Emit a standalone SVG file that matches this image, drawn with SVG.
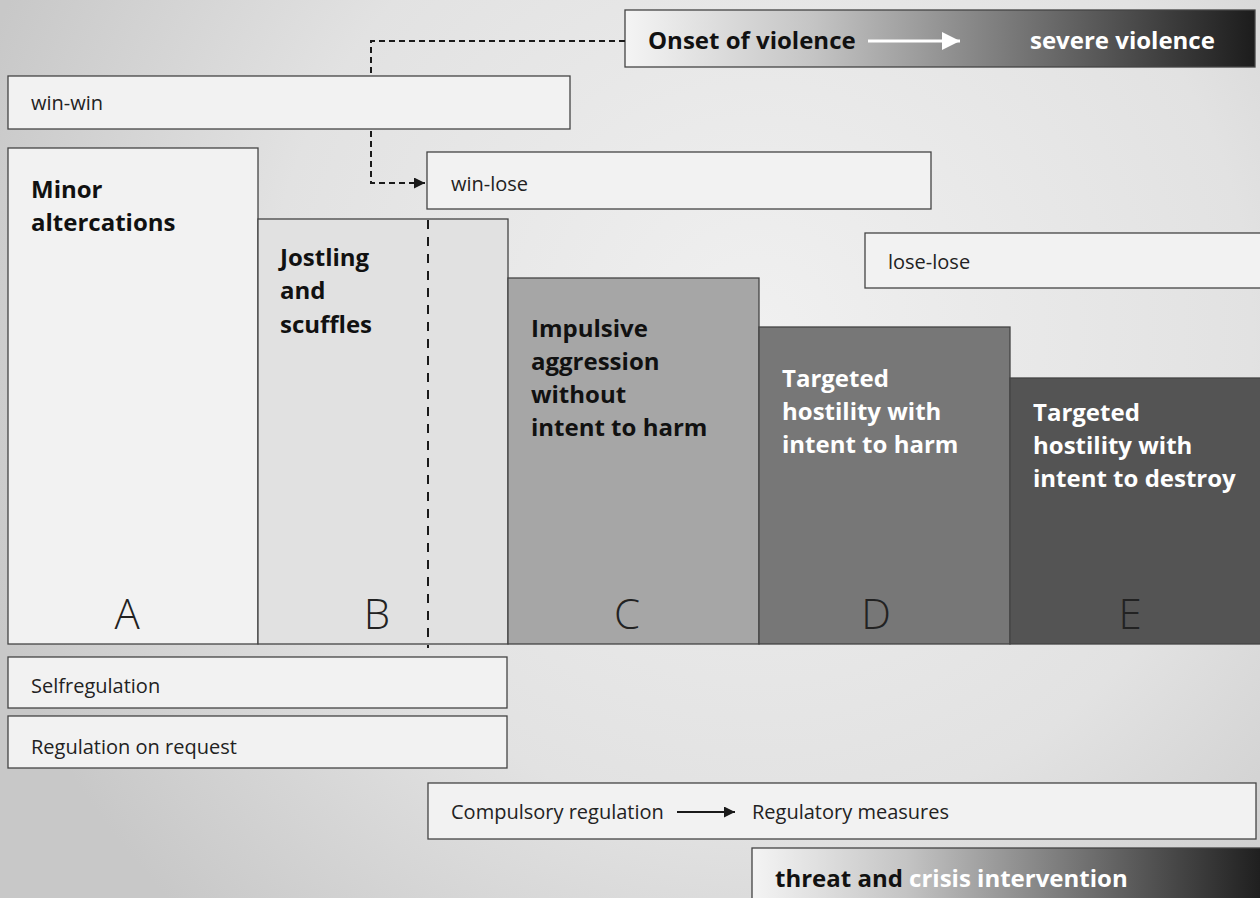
<svg xmlns="http://www.w3.org/2000/svg" width="1260" height="898" viewBox="0 0 1260 898">
  <defs>
    <radialGradient id="bg" cx="760" cy="330" r="820" gradientUnits="userSpaceOnUse">
      <stop offset="0" stop-color="#f0f0f0"/>
      <stop offset="0.6" stop-color="#e2e2e2"/>
      <stop offset="1" stop-color="#c8c8c8"/>
    </radialGradient>
    <linearGradient id="fade" x1="0" y1="0" x2="1" y2="0">
      <stop offset="0" stop-color="#f4f4f4"/>
      <stop offset="0.3" stop-color="#c4c4c4"/>
      <stop offset="0.65" stop-color="#707070"/>
      <stop offset="1" stop-color="#1c1c1c"/>
    </linearGradient>
    <marker id="head" viewBox="0 0 10 10" refX="10" refY="5" markerWidth="12" markerHeight="11" markerUnits="userSpaceOnUse" orient="auto">
      <path d="M0,0 L10,5 L0,10 Z" fill="#1a1a1a"/>
    </marker>
    <marker id="headBig" viewBox="0 0 10 10" refX="10" refY="5" markerWidth="17" markerHeight="11" markerUnits="userSpaceOnUse" orient="auto">
      <path d="M0,0 L10,5 L0,10 Z" fill="#1a1a1a"/>
    </marker>
    <marker id="headWhite" viewBox="0 0 10 10" refX="10" refY="5" markerWidth="30" markerHeight="18" markerUnits="userSpaceOnUse" orient="auto">
      <path d="M0,0 L10,5 L0,10 Z" fill="#ffffff"/>
    </marker>
  </defs>
  <style>
    .box { stroke: #444; stroke-width: 1.3; }
    .light { fill: #f2f2f2; }
    .lbl { font-family: "Open Sans", "Liberation Sans", sans-serif; font-size: 20px; fill: #222; }
    .head { font-family: "Open Sans", "Liberation Sans", sans-serif; font-weight: 700; font-size: 24px; fill: #111; }
    .inv { fill: #ffffff; }
    .letter { font-family: "Open Sans", "Liberation Sans", sans-serif; font-weight: 300; font-size: 42px; text-anchor: middle; fill: #222; }
    .dash { fill: none; stroke: #1a1a1a; stroke-width: 2; }
  </style>

  <rect x="0" y="0" width="1260" height="898" fill="url(#bg)"/>

  <!-- escalation banner -->
  <g id="violence">
    <rect class="box" x="625" y="10" width="630" height="57" fill="url(#fade)"/>
    <text class="head" x="648" y="49">Onset of violence</text>
    <line x1="868" y1="41" x2="960" y2="41" stroke="#fff" stroke-width="3" marker-end="url(#headWhite)"/>
    <text class="head inv" x="1030" y="49">severe violence</text>
  </g>

  <!-- outcome boxes -->
  <g id="win-win">
    <rect class="box light" x="8" y="76" width="562" height="53"/>
    <text class="lbl" x="31" y="110">win-win</text>
  </g>
  <g id="win-lose">
    <rect class="box light" x="427" y="152" width="504" height="57"/>
    <text class="lbl" x="451" y="191">win-lose</text>
  </g>
  <g id="lose-lose">
    <rect class="box light" x="865" y="233" width="400" height="55"/>
    <text class="lbl" x="888" y="269">lose-lose</text>
  </g>

  <!-- stage columns -->
  <g id="stage-a">
    <rect class="box" x="8" y="148" width="250" height="496" fill="#f2f2f2"/>
    <text class="head" x="31" y="198">Minor</text>
    <text class="head" x="31" y="231">altercations</text>
    <text class="letter" x="127" y="629">A</text>
  </g>
  <g id="stage-b">
    <rect class="box" x="258" y="219" width="250" height="425" fill="#e1e1e1"/>
    <text class="head" x="280" y="266">Jostling</text>
    <text class="head" x="280" y="299">and</text>
    <text class="head" x="280" y="333">scuffles</text>
    <text class="letter" x="377" y="629">B</text>
  </g>
  <g id="stage-c">
    <rect class="box" x="508" y="278" width="251" height="366" fill="#a6a6a6"/>
    <text class="head" x="531" y="337">Impulsive</text>
    <text class="head" x="531" y="370">aggression</text>
    <text class="head" x="531" y="403">without</text>
    <text class="head" x="531" y="436">intent to harm</text>
    <text class="letter" x="627" y="629">C</text>
  </g>
  <g id="stage-d">
    <rect class="box" x="759" y="327" width="251" height="317" fill="#777777"/>
    <text class="head inv" x="782" y="387">Targeted</text>
    <text class="head inv" x="782" y="420">hostility with</text>
    <text class="head inv" x="782" y="453">intent to harm</text>
    <text class="letter inv" x="876" y="629">D</text>
  </g>
  <g id="stage-e">
    <rect class="box" x="1010" y="378" width="255" height="266" fill="#545454"/>
    <text class="head inv" x="1033" y="421">Targeted</text>
    <text class="head inv" x="1033" y="454">hostility with</text>
    <text class="head inv" x="1033" y="487">intent to destroy</text>
    <text class="letter inv" x="1130" y="629">E</text>
  </g>

  <!-- regulation boxes -->
  <g id="selfregulation">
    <rect class="box light" x="8" y="657" width="499" height="51"/>
    <text class="lbl" x="31" y="693">Selfregulation</text>
  </g>
  <g id="regulation-on-request">
    <rect class="box light" x="8" y="716" width="499" height="52"/>
    <text class="lbl" x="31" y="754">Regulation on request</text>
  </g>
  <g id="compulsory-regulation">
    <rect class="box light" x="428" y="783" width="828" height="56"/>
    <text class="lbl" x="451" y="819">Compulsory regulation</text>
    <line x1="677" y1="812" x2="735" y2="812" stroke="#1a1a1a" stroke-width="2.2" marker-end="url(#headBig)"/>
    <text class="lbl" x="752" y="819">Regulatory measures</text>
  </g>
  <g id="crisis-intervention">
    <rect class="box" x="752" y="848" width="515" height="60" fill="url(#fade)"/>
    <text class="head" x="775" y="887">threat and <tspan class="inv">crisis intervention</tspan></text>
  </g>

  <!-- connectors -->
  <g id="connectors">
    <path class="dash" d="M625,41 H371 V76" stroke-dasharray="6,4"/>
    <path class="dash" d="M371,131 V183 H425" stroke-dasharray="6,4" marker-end="url(#head)"/>
    <line class="dash" x1="428" y1="220" x2="428" y2="648" stroke-dasharray="9,8"/>
  </g>
</svg>
